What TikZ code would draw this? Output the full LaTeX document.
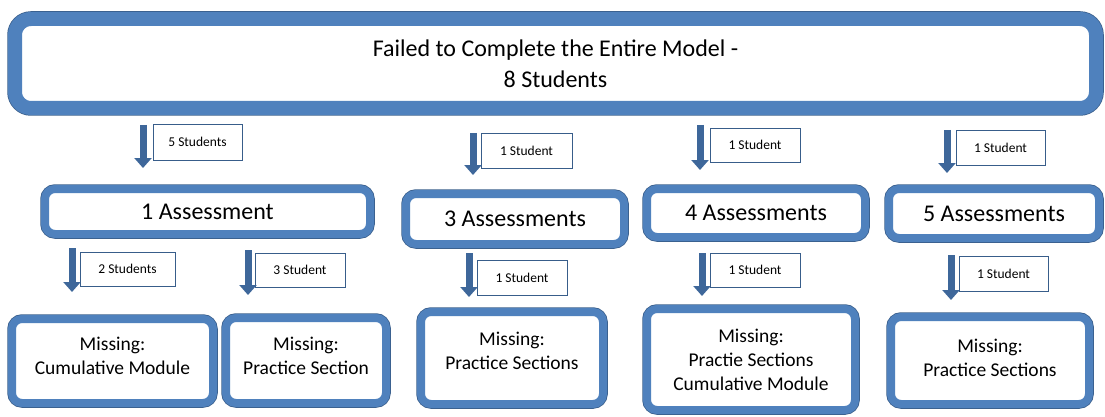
\documentclass[tikz,border=0pt]{standalone}
\usepackage{fontspec}
\setmainfont{Carlito}
\usetikzlibrary{arrows.meta}
\definecolor{azul}{HTML}{4F81BD}
\definecolor{azuloscuro}{HTML}{385D8A}
\definecolor{flecha}{HTML}{3E679A}
\tikzset{
	caja/.style={draw=azul, line width=8pt, fill=white, rounded corners=10pt,
		preaction={draw=azuloscuro, line width=9.5pt}, align=center, inner sep=0pt},
	cajagrande/.style={caja, line width=14pt, rounded corners=16pt,
		preaction={draw=azuloscuro, line width=15.5pt}},
	etiqueta/.style={draw=azuloscuro, line width=0.9pt, fill=white, inner sep=0pt,
		font=\fontsize{13.5}{16}\selectfont},
	flechagruesa/.style={draw=flecha, line width=7pt, -{Triangle[width=17pt,length=10pt]}},
	grande/.style={font=\fontsize{24}{31}\selectfont},
	mediana/.style={font=\fontsize{19.5}{24}\selectfont}
}
\begin{document}
\begin{tikzpicture}[x=1pt,y=-1pt]
	\useasboundingbox (0,0) rectangle (1105,417);
	% Caja principal
		\node[cajagrande, grande, minimum width=1081pt, minimum height=89pt] (modelo) at (555.5,63.5)
			{Failed to Complete the Entire Model -\\8 Students};

	% Evaluaciones
		\node[caja, grande, minimum width=325pt, minimum height=45pt] (eval1) at (207.5,211.5) {1 Assessment};
		\node[caja, grande, minimum width=218pt, minimum height=50pt] (eval3) at (515,219) {3 Assessments};
		\node[caja, grande, minimum width=218pt, minimum height=48pt] (eval4) at (756,213) {4 Assessments};
		\node[caja, grande, minimum width=210pt, minimum height=49pt] (eval5) at (994,213.5) {5 Assessments};

	% Faltantes
		\node[caja, mediana, minimum width=201pt, minimum height=84pt, text depth=10pt] (falta1) at (112.5,361) {Missing:\\Cumulative Module};
		\node[caja, mediana, minimum width=160pt, minimum height=85pt, text depth=10pt] (falta2) at (306,360.5) {Missing:\\Practice Section};
		\node[caja, mediana, minimum width=182pt, minimum height=92pt, text depth=14pt] (falta3) at (512,358) {Missing:\\Practice Sections};
		\node[caja, mediana, minimum width=208pt, minimum height=101pt] (falta4) at (751,359.5) {Missing:\\Practie Sections\\Cumulative Module};
		\node[caja, mediana, minimum width=198pt, minimum height=87pt, text depth=5pt] (falta5) at (990,360.5) {Missing:\\Practice Sections};

	% Etiquetas
		\node[etiqueta, minimum width=89pt, minimum height=36pt] (et1) at (197.5,142) {5 Students};
		\node[etiqueta, minimum width=91pt, minimum height=35pt] (et2) at (526.5,150.5) {1 Student};
		\node[etiqueta, minimum width=90pt, minimum height=34pt] (et3) at (755,145) {1 Student};
		\node[etiqueta, minimum width=89pt, minimum height=35pt] (et4) at (1000.5,147.5) {1 Student};
		\node[etiqueta, minimum width=95pt, minimum height=34pt] (et5) at (127.5,269) {2 Students};
		\node[etiqueta, minimum width=90pt, minimum height=34pt] (et6) at (300,270) {3 Student};
		\node[etiqueta, minimum width=90pt, minimum height=35pt] (et7) at (522,277.5) {1 Student};
		\node[etiqueta, minimum width=90pt, minimum height=34pt] (et8) at (755,270) {1 Student};
		\node[etiqueta, minimum width=89pt, minimum height=35pt] (et9) at (1003.5,273.5) {1 Student};

	% Flechas
		\coordinate (i1) at (143,125);  \coordinate (f1) at (143,168);
		\coordinate (i2) at (473,133);  \coordinate (f2) at (473,175);
		\coordinate (i3) at (700,125);  \coordinate (f3) at (700,170);
		\coordinate (i4) at (947,130);  \coordinate (f4) at (947,173);
		\coordinate (i5) at (72,248);   \coordinate (f5) at (72,292);
		\coordinate (i6) at (248,250);  \coordinate (f6) at (248,295);
		\coordinate (i7) at (469,253);  \coordinate (f7) at (469,297);
		\coordinate (i8) at (702,253);  \coordinate (f8) at (702,296);
		\coordinate (i9) at (951,255);  \coordinate (f9) at (951,300);
		\foreach \n in {1,...,9}
			\draw[flechagruesa] (i\n) -- (f\n);
\end{tikzpicture}
\end{document}
